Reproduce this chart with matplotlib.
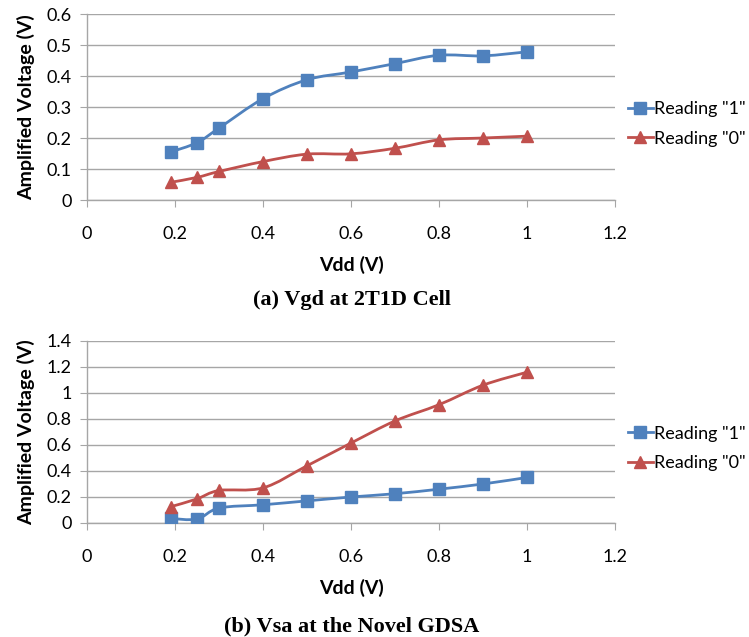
import numpy as np
import matplotlib
matplotlib.use("Agg")
import matplotlib.pyplot as plt
from matplotlib.path import Path
from matplotlib.patches import PathPatch
from matplotlib.lines import Line2D

plt.rcParams['font.family'] = ['Lato', 'DejaVu Sans']

vdd = [0.19, 0.25, 0.3, 0.4, 0.5, 0.6, 0.7, 0.8, 0.9, 1.0]

# (a) Vgd at 2T1D cell
vgd_read1 = [0.155, 0.185, 0.232, 0.327, 0.388, 0.413, 0.440, 0.467, 0.465, 0.478]
vgd_read0 = [0.057, 0.073, 0.092, 0.124, 0.148, 0.149, 0.167, 0.194, 0.200, 0.206]

# (b) Vsa at the novel GDSA
vsa_read1 = [0.035, 0.030, 0.115, 0.140, 0.170, 0.200, 0.225, 0.260, 0.300, 0.350]
vsa_read0 = [0.125, 0.185, 0.250, 0.270, 0.440, 0.615, 0.785, 0.910, 1.060, 1.160]

blue = '#4F81BD'
red = '#C0504D'


def smooth_path(x, y, t=1/6):
    # Excel-like smoothed line: Catmull-Rom segments as cubic Bezier curves
    x = np.asarray(x, float)
    y = np.asarray(y, float)
    verts = [(x[0], y[0])]
    codes = [Path.MOVETO]
    n = len(x)
    for i in range(n - 1):
        i0 = max(i - 1, 0)
        i3 = min(i + 2, n - 1)
        c1 = (x[i] + (x[i + 1] - x[i0]) * t, y[i] + (y[i + 1] - y[i0]) * t)
        c2 = (x[i + 1] - (x[i3] - x[i]) * t, y[i + 1] - (y[i3] - y[i]) * t)
        verts += [c1, c2, (x[i + 1], y[i + 1])]
        codes += [Path.CURVE4] * 3
    return Path(verts, codes)


def draw_panel(ax, s1, s0, ymax, ystep):
    for ys, col, mk, ms in [(s1, blue, 's', 8), (s0, red, '^', 8)]:
        ax.add_patch(PathPatch(smooth_path(vdd, ys), fill=False, edgecolor=col, lw=2, zorder=3))
        ax.plot(vdd, ys, linestyle='none', marker=mk, ms=ms, color=col, zorder=4)
    ax.set_xlim(0, 1.2)
    ax.set_ylim(0, ymax)
    ax.set_xticks(np.arange(0, 1.21, 0.2))
    ax.set_xticklabels(['0', '0.2', '0.4', '0.6', '0.8', '1', '1.2'])
    yt = np.arange(0, ymax + 1e-9, ystep)
    ax.set_yticks(yt)
    ax.set_yticklabels([('%g' % v) for v in yt])
    ax.grid(axis='y', color='#A6A6A6', lw=1)
    ax.set_axisbelow(True)
    for s in ['top', 'right']:
        ax.spines[s].set_visible(False)
    for s in ['left', 'bottom']:
        ax.spines[s].set_color('#A6A6A6')
        ax.spines[s].set_linewidth(1)
    ax.tick_params(axis='x', length=5, color='#A6A6A6', pad=14, labelsize=13)
    ax.tick_params(axis='y', length=5, color='#A6A6A6', pad=6, labelsize=13)
    ax.set_xlabel('Vdd (V)', fontweight='bold', fontsize=14, labelpad=10)
    ax.set_ylabel('Amplified Voltage (V)', fontweight='bold', fontsize=14, labelpad=8)
    handles = [Line2D([], [], color=blue, lw=2, marker='s', ms=8),
               Line2D([], [], color=red, lw=2, marker='^', ms=8)]
    ax.legend(handles, ['Reading "1"', 'Reading "0"'], loc='center left',
              bbox_to_anchor=(1.0, 0.41), frameon=False, fontsize=13,
              handlelength=1.4, handletextpad=0.05, labelspacing=0.75, borderaxespad=0.3)


fig = plt.figure(figsize=(7.49, 6.37), dpi=100)
ax1 = fig.add_axes([0.1162, 0.686, 0.7049, 0.292])
ax2 = fig.add_axes([0.1162, 0.179, 0.7049, 0.2857])

draw_panel(ax1, vgd_read1, vgd_read0, 0.6, 0.1)
draw_panel(ax2, vsa_read1, vsa_read0, 1.4, 0.2)

fig.text(0.47, 1 - 300 / 637, '(a) Vgd at 2T1D Cell', ha='center', va='center',
         family='Liberation Serif', fontweight='bold', fontsize=16)
fig.text(0.47, 1 - 626 / 637, '(b) Vsa at the Novel GDSA', ha='center', va='center',
         family='Liberation Serif', fontweight='bold', fontsize=16)

fig.savefig('out.png', dpi=100)
